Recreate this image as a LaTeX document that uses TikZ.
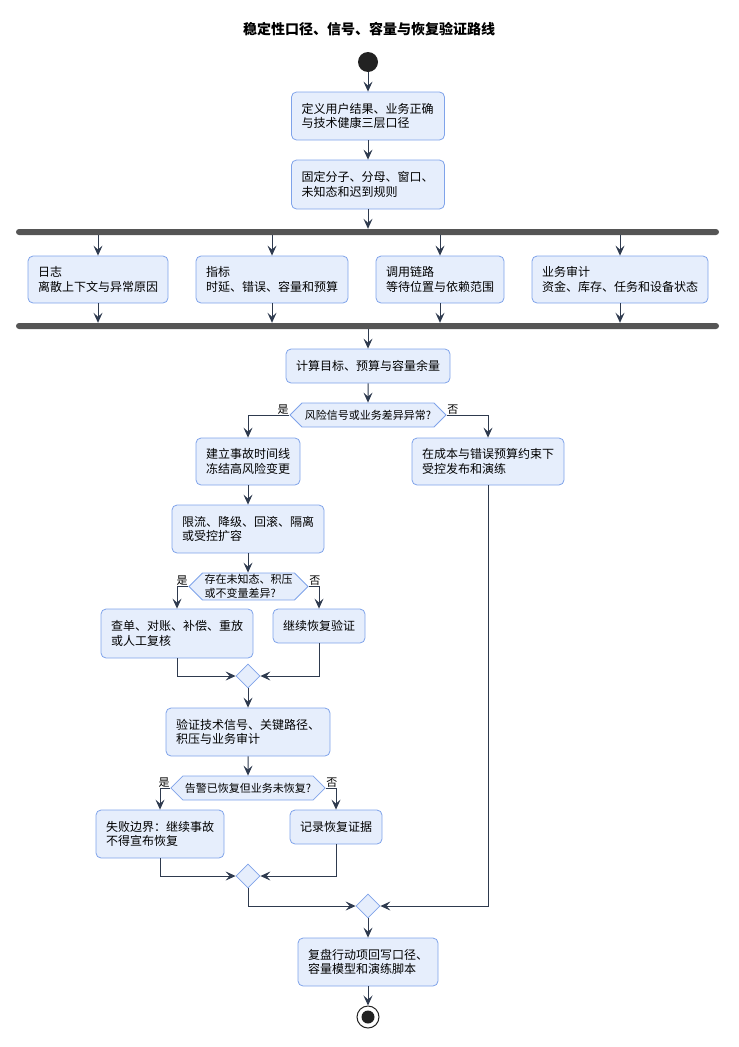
\documentclass[tikz,border=0pt]{standalone}
\usepackage{fontspec}
\setmainfont{Noto Sans CJK SC}
\usetikzlibrary{positioning}
\usetikzlibrary{arrows.meta}
\usetikzlibrary{shapes.geometric,shapes.symbols}

\definecolor{actfill}{HTML}{E6EEFC}
\definecolor{actline}{HTML}{7FA3EA}
\definecolor{flowline}{HTML}{2E3A4E}
\definecolor{barfill}{HTML}{555555}
\definecolor{dotfill}{HTML}{222222}

\begin{document}
\begin{tikzpicture}[
        x=1pt, y=-1pt,
        >={Stealth[length=10pt,width=9pt,inset=4pt]},
        flow/.style = {->, draw=flowline, line width=1pt},
        act/.style = {draw=actline, fill=actfill, rounded corners=5pt, line width=0.8pt,
            align=left, inner xsep=10pt, inner ysep=0pt, text width=#1,
            font=\fontsize{12}{14.5}\selectfont},
        hex/.style = {signal, signal to=west and east, signal pointer angle=90,
            draw=actline, fill=actfill, line width=0.8pt, inner xsep=2pt, inner ysep=0pt,
            align=left, font=\fontsize{11}{13.5}\selectfont},
        merge/.style = {diamond, draw=actline, fill=actfill, line width=0.8pt,
            minimum size=24pt, inner sep=0pt},
        bar/.style = {fill=barfill, rounded corners=3pt, minimum width=703pt,
            minimum height=6pt, inner sep=0pt},
        lbl/.style = {font=\fontsize{11}{12}\selectfont, inner sep=0.5pt}
    ]
    \useasboundingbox (0,0) rectangle (739,1047);
    \node[font=\bfseries\fontsize{14}{16}\selectfont] (title) at (369,29) {稳定性口径、信号、容量与恢复验证路线};
    \node[circle, fill=dotfill, minimum size=20pt, inner sep=0pt] (start) at (368,62) {};

    \node[act=133pt, minimum height=48pt] (def) at (368,116) {定义用户结果、业务正确\\与技术健康三层口径};
    \node[act=133pt, minimum height=49pt] (fix) at (368,184.5) {固定分子、分母、窗口、\\未知态和迟到规则};
    \node[bar] (fork) at (367.5,232) {};
    \node[act=120pt, minimum height=47pt] (logs) at (98,279.5) {日志\\离散上下文与异常原因};
    \node[act=132pt, minimum height=47pt] (metric) at (272,279.5) {指标\\时延、错误、容量和预算};
    \node[act=108pt, minimum height=47pt] (trace) at (440,279.5) {调用链路\\等待位置与依赖范围};
    \node[act=156pt, minimum height=47pt] (audit) at (620,279.5) {业务审计\\资金、库存、任务和设备状态};
    \node[bar] (join) at (367.5,326) {};
    \node[act=144pt, minimum height=34pt] (calc) at (368,366) {计算目标、预算与容量余量};

    \node[hex, minimum width=156pt, minimum height=24pt] (risk) at (368,415) {风险信号或业务差异异常?};
    \node[lbl, anchor=south east] (riskyes) at (risk.west) {是};
    \node[lbl, anchor=south west] (riskno) at (risk.east) {否};
    \node[act=84pt, minimum height=47pt] (inc) at (248,461.5) {建立事故时间线\\冻结高风险变更};
    \node[act=132pt, minimum height=47pt] (ctl) at (488,461.5) {在成本与错误预算约束下\\受控发布和演练};
    \node[act=132pt, minimum height=48pt] (lim) at (248,529) {限流、降级、回滚、隔离\\或受控扩容};

    \node[hex, minimum width=111pt, minimum height=27pt] (gap) at (248.5,586.5) {存在未知态、积压\\或不变量差异?};
    \node[lbl, anchor=south east] (gapyes) at (gap.west) {是};
    \node[lbl, anchor=south west] (gapno) at (gap.east) {否};
    \node[act=132pt, minimum height=49pt] (chk) at (177,633.5) {查单、对账、补偿、重放\\或人工复核};
    \node[act=72pt, minimum height=34pt] (cont) at (319,626) {继续恢复验证};
    \node[merge] (m1) at (248,676) {};
    \node[act=144pt, minimum height=48pt] (ver) at (248,732) {验证技术信号、关键路径、\\积压与业务审计};

    \node[hex, minimum width=154pt, minimum height=24pt] (alarm) at (248,788) {告警已恢复但业务未恢复?};
    \node[lbl, anchor=south east] (alarmyes) at (alarm.west) {是};
    \node[lbl, anchor=south west] (alarmno) at (alarm.east) {否};
    \node[act=108pt, minimum height=48pt] (fail) at (160,834) {失败边界：继续事故\\不得宣布恢复};
    \node[act=72pt, minimum height=34pt] (rec) at (336,827) {记录恢复证据};
    \node[merge] (m2) at (248,876) {};
    \node[merge] (m3) at (368,906) {};
    \node[act=120pt, minimum height=48pt] (rev) at (368,962) {复盘行动项回写口径、\\容量模型和演练脚本};
    \node[circle, draw=dotfill, fill=white, line width=1pt, minimum size=22pt, inner sep=0pt] (stop) at (368,1017) {};
    \node[circle, fill=dotfill, minimum size=13pt, inner sep=0pt] (stopdot) at (stop) {};

    \draw[flow] (start) -- (def);
    \draw[flow] (def) -- (fix);
    \draw[flow] (fix) -- (fix |- fork.north);
    \foreach \b in {logs,metric,trace,audit} {
        \draw[flow] (\b.north |- fork.south) -- (\b.north);
        \draw[flow] (\b.south) -- (\b.south |- join.north);
    }
    \draw[flow] (calc.north |- join.south) -- (calc);
    \draw[flow] (calc) -- (risk);
    \draw[flow] (risk.west) -| (inc.north);
    \draw[flow] (risk.east) -| (ctl.north);
    \draw[flow] (inc) -- (lim);
    \draw[flow] (lim) -- (lim |- gap.north);
    \draw[flow] (gap.west) -| (chk.north);
    \draw[flow] (gap.east) -| (cont.north);
    \draw[flow] (chk.south) |- (m1.west);
    \draw[flow] (cont.south) |- (m1.east);
    \draw[flow] (m1) -- (ver);
    \draw[flow] (ver) -- (alarm);
    \draw[flow] (alarm.west) -| (fail.north);
    \draw[flow] (alarm.east) -| (rec.north);
    \draw[flow] (fail.south) |- (m2.west);
    \draw[flow] (rec.south) |- (m2.east);
    \draw[flow] (m2.south) |- (m3.west);
    \draw[flow] (ctl.south) |- (m3.east);
    \draw[flow] (m3) -- (rev);
    \draw[flow] (rev) -- (stop);
\end{tikzpicture}
\end{document}
